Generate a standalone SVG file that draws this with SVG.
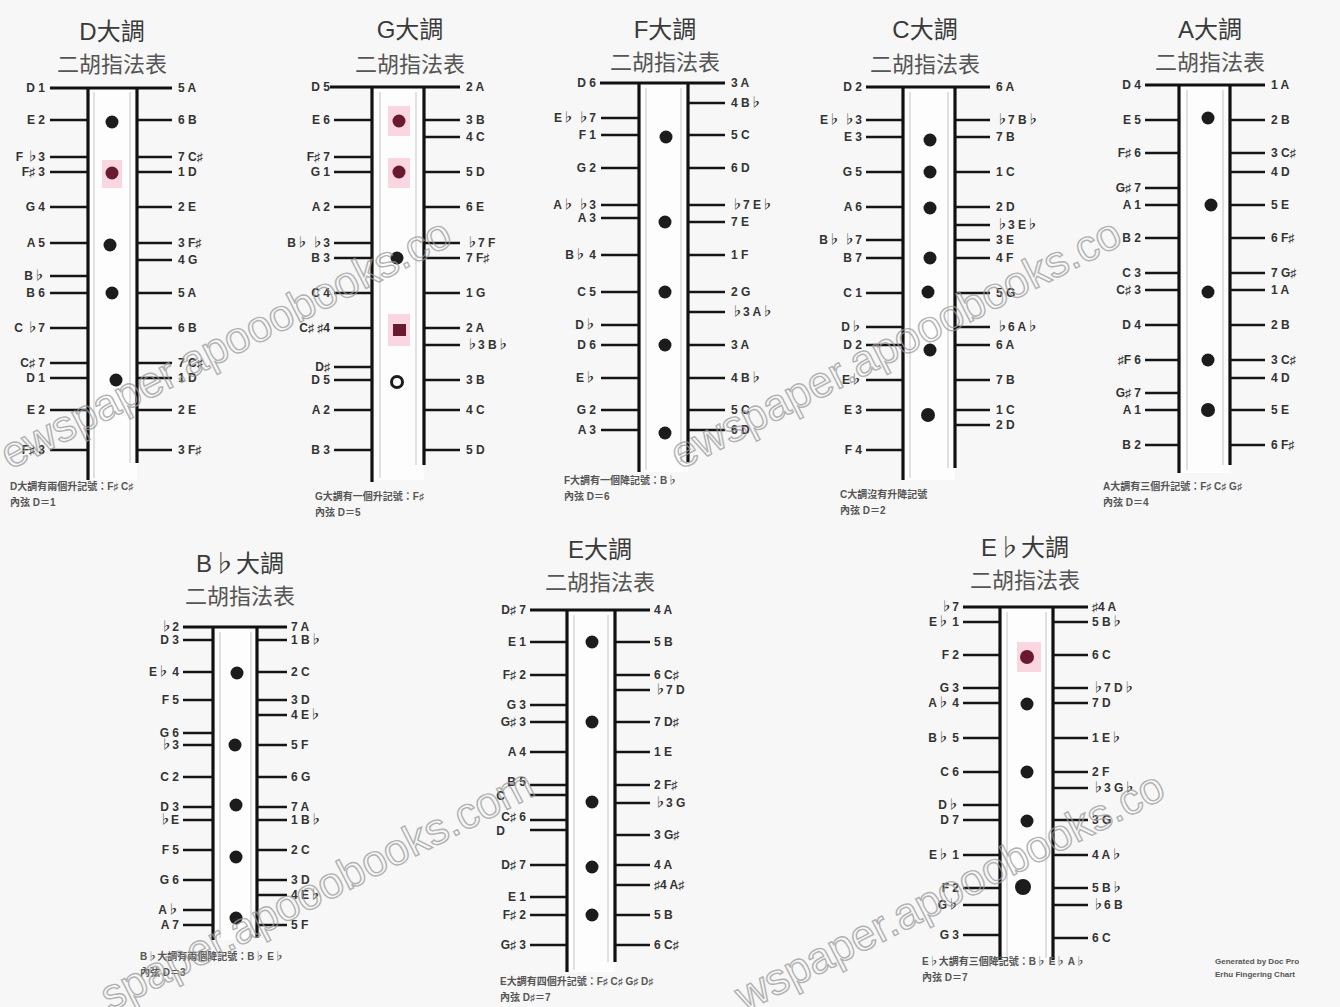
<svg xmlns="http://www.w3.org/2000/svg" width="1340" height="1007" viewBox="0 0 1340 1007">
<style>
.bg{fill:#f7f7f7}
.lane{fill:#fdfdfd}
.f{stroke:#111;stroke-width:3.2;fill:none}
.in{stroke:#c4c4c4;stroke-width:1;fill:none}
.t{stroke:#151515;stroke-width:2.6;fill:none}
.ttl{font-family:"Liberation Sans","Noto Sans CJK TC",sans-serif;font-size:24px;fill:#3a3a3a;text-anchor:middle}
.sub{font-family:"Noto Sans CJK TC",sans-serif;font-size:22px;fill:#555;text-anchor:middle}
.l{font-family:"Liberation Sans","Noto Sans CJK TC",sans-serif;font-size:12px;font-weight:bold;fill:#333;text-anchor:end}
.r{font-family:"Liberation Sans","Noto Sans CJK TC",sans-serif;font-size:12px;font-weight:bold;fill:#333;text-anchor:start}
.note{font-family:"Liberation Sans","Noto Sans CJK TC",sans-serif;font-size:10px;font-weight:bold;fill:#555}
.dot{fill:#1c1c1c}
.red{fill:#6a1a2e}
.pk{fill:#f9d6e0}
.wm{font-family:"Liberation Sans",sans-serif;font-size:44px;fill:none;stroke:#9a9a9a;stroke-width:1.4;opacity:0.75}
</style>
<rect class="bg" x="0" y="0" width="1340" height="1007"/>

<!-- D major -->
<g id="chart-D" transform="translate(88,0)">
<text class="ttl" x="24" y="40">D大調</text>
<text class="sub" x="24" y="72">二胡指法表</text>
<rect class="lane" x="0" y="88" width="49" height="392"/>
<rect class="pk" x="14" y="160" width="20" height="28"/>
<path class="in" d="M6 92V478M42 92V463"/>
<path class="f" d="M0 88V480M49 88V463M-38 88H84"/>
<path class="t" d="M-38 120H0M-38 157H0M-38 172H0M-38 207H0M-38 243H0M-38 276H0M-38 293H0M-38 328H0M-38 363H0M-38 378H0M-38 410H0M-38 450H0"/>
<path class="t" d="M49 120H84M49 157H84M49 172H84M49 207H84M49 243H84M49 260H84M49 293H84M49 328H84M49 363H84M49 378H84M49 410H84M49 450H84"/>
<circle class="dot" cx="24" cy="122" r="6.5"/><circle class="red" cx="24" cy="173" r="6.5"/><circle class="dot" cx="22" cy="245" r="6.5"/><circle class="dot" cx="24" cy="293" r="6.5"/><circle class="dot" cx="28" cy="380" r="6.5"/>
<g class="l"><text x="-43" y="92">D 1</text><text x="-43" y="124">E 2</text><text x="-43" y="161">F ♭3</text><text x="-43" y="176">F♯ 3</text><text x="-43" y="211">G 4</text><text x="-43" y="247">A 5</text><text x="-43" y="280">B♭</text><text x="-43" y="297">B 6</text><text x="-43" y="332">C ♭7</text><text x="-43" y="367">C♯ 7</text><text x="-43" y="382">D 1</text><text x="-43" y="414">E 2</text><text x="-43" y="454">F♯ 3</text></g>
<g class="r"><text x="90" y="92">5 A</text><text x="90" y="124">6 B</text><text x="90" y="161">7 C♯</text><text x="90" y="176">1 D</text><text x="90" y="211">2 E</text><text x="90" y="247">3 F♯</text><text x="90" y="264">4 G</text><text x="90" y="297">5 A</text><text x="90" y="332">6 B</text><text x="90" y="367">7 C♯</text><text x="90" y="382">1 D</text><text x="90" y="414">2 E</text><text x="90" y="454">3 F♯</text></g>
<text class="note" x="-78" y="490">D大調有兩個升記號：F♯ C♯</text>
<text class="note" x="-78" y="506">內弦 D＝1</text>
</g>

<!-- G major -->
<g id="chart-G" transform="translate(372,0)">
<text class="ttl" x="38" y="38">G大調</text>
<text class="sub" x="38" y="72">二胡指法表</text>
<rect class="lane" x="0" y="87" width="52" height="393"/>
<rect class="pk" x="16" y="106" width="22" height="30"/><rect class="pk" x="16" y="158" width="22" height="30"/><rect class="pk" x="16" y="314" width="22" height="32"/>
<path class="in" d="M8 92V478M44 92V465"/>
<path class="f" d="M0 87V482M52 87V465M-42 87H88"/>
<path class="t" d="M-38 120H0M-38 157H0M-38 172H0M-38 207H0M-38 243H0M-38 258H0M-38 293H0M-38 328H0M-38 367H0M-38 380H0M-38 410H0M-38 450H0"/>
<path class="t" d="M52 120H88M52 137H88M52 172H88M52 207H88M52 243H88M52 258H88M52 293H88M52 328H88M52 345H88M52 380H88M52 410H88M52 450H88"/>
<circle class="red" cx="27" cy="121" r="6.5"/><circle class="red" cx="27" cy="172" r="6.5"/><circle class="dot" cx="25" cy="258" r="6.5"/><rect class="red" x="21" y="324" width="13" height="12"/><circle cx="25" cy="382" r="5.5" fill="#fff" stroke="#1c1c1c" stroke-width="3"/>
<g class="l"><text x="-42" y="91">D 5</text><text x="-42" y="124">E 6</text><text x="-42" y="161">F♯ 7</text><text x="-42" y="176">G 1</text><text x="-42" y="211">A 2</text><text x="-42" y="247">B♭ ♭3</text><text x="-42" y="262">B 3</text><text x="-42" y="297">C 4</text><text x="-42" y="332">C♯ ♯4</text><text x="-42" y="371">D♯</text><text x="-42" y="384">D 5</text><text x="-42" y="414">A 2</text><text x="-42" y="454">B 3</text></g>
<g class="r"><text x="94" y="91">2 A</text><text x="94" y="124">3 B</text><text x="94" y="141">4 C</text><text x="94" y="176">5 D</text><text x="94" y="211">6 E</text><text x="94" y="247">♭7 F</text><text x="94" y="262">7 F♯</text><text x="94" y="297">1 G</text><text x="94" y="332">2 A</text><text x="94" y="349">♭3 B♭</text><text x="94" y="384">3 B</text><text x="94" y="414">4 C</text><text x="94" y="454">5 D</text></g>
<text class="note" x="-57" y="500">G大調有一個升記號：F♯</text>
<text class="note" x="-57" y="516">內弦 D＝5</text>
</g>

<!-- F major -->
<g id="chart-F" transform="translate(639,0)">
<text class="ttl" x="26" y="38">F大調</text>
<text class="sub" x="26" y="70">二胡指法表</text>
<rect class="lane" x="0" y="83" width="49" height="389"/>
<path class="in" d="M7 88V470M42 88V462"/>
<path class="f" d="M0 83V472M49 83V462M-39 83H86"/>
<path class="t" d="M-38 118H0M-38 135H0M-38 168H0M-38 205H0M-38 218H0M-38 255H0M-38 292H0M-38 325H0M-38 345H0M-38 378H0M-38 410H0M-38 430H0"/>
<path class="t" d="M49 103H86M49 135H86M49 168H86M49 205H86M49 222H86M49 255H86M49 292H86M49 312H86M49 345H86M49 378H86M49 410H86M49 430H86"/>
<circle class="dot" cx="27" cy="137" r="6.5"/><circle class="dot" cx="26" cy="222" r="6.5"/><circle class="dot" cx="26" cy="292" r="6.5"/><circle class="dot" cx="26" cy="345" r="6.5"/><circle class="dot" cx="26" cy="433" r="6.5"/>
<g class="l"><text x="-43" y="87">D 6</text><text x="-43" y="122">E♭ ♭7</text><text x="-43" y="139">F 1</text><text x="-43" y="172">G 2</text><text x="-43" y="209">A♭ ♭3</text><text x="-43" y="222">A 3</text><text x="-43" y="259">B♭ 4</text><text x="-43" y="296">C 5</text><text x="-43" y="329">D♭</text><text x="-43" y="349">D 6</text><text x="-43" y="382">E♭</text><text x="-43" y="414">G 2</text><text x="-43" y="434">A 3</text></g>
<g class="r"><text x="92" y="87">3 A</text><text x="92" y="107">4 B♭</text><text x="92" y="139">5 C</text><text x="92" y="172">6 D</text><text x="92" y="209">♭7 E♭</text><text x="92" y="226">7 E</text><text x="92" y="259">1 F</text><text x="92" y="296">2 G</text><text x="92" y="316">♭3 A♭</text><text x="92" y="349">3 A</text><text x="92" y="382">4 B♭</text><text x="92" y="414">5 C</text><text x="92" y="434">6 D</text></g>
<text class="note" x="-75" y="484">F大調有一個降記號：B♭</text>
<text class="note" x="-75" y="500">內弦 D＝6</text>
</g>

<!-- C major -->
<g id="chart-C" transform="translate(903,0)">
<text class="ttl" x="22" y="38">C大調</text>
<text class="sub" x="22" y="72">二胡指法表</text>
<rect class="lane" x="0" y="87" width="52" height="393"/>
<path class="in" d="M7 92V478M45 92V468"/>
<path class="f" d="M0 87V480M52 87V468M-37 87H87"/>
<path class="t" d="M-37 120H0M-37 137H0M-37 172H0M-37 207H0M-37 240H0M-37 258H0M-37 293H0M-37 327H0M-37 345H0M-37 380H0M-37 410H0M-37 450H0"/>
<path class="t" d="M52 120H87M52 137H87M52 172H87M52 207H87M52 225H87M52 240H87M52 258H87M52 293H87M52 327H87M52 345H87M52 380H87M52 410H87M52 425H87"/>
<circle class="dot" cx="27" cy="140" r="6.5"/><circle class="dot" cx="27" cy="172" r="6.5"/><circle class="dot" cx="27" cy="208" r="6.5"/><circle class="dot" cx="27" cy="258" r="6.5"/><circle class="dot" cx="25" cy="292" r="6.5"/><circle class="dot" cx="27" cy="350" r="6.5"/><circle class="dot" cx="25" cy="415" r="7"/>
<g class="l"><text x="-41" y="91">D 2</text><text x="-41" y="124">E♭ ♭3</text><text x="-41" y="141">E 3</text><text x="-41" y="176">G 5</text><text x="-41" y="211">A 6</text><text x="-41" y="244">B♭ ♭7</text><text x="-41" y="262">B 7</text><text x="-41" y="297">C 1</text><text x="-41" y="331">D♭</text><text x="-41" y="349">D 2</text><text x="-41" y="384">E♭</text><text x="-41" y="414">E 3</text><text x="-41" y="454">F 4</text></g>
<g class="r"><text x="93" y="91">6 A</text><text x="93" y="124">♭7 B♭</text><text x="93" y="141">7 B</text><text x="93" y="176">1 C</text><text x="93" y="211">2 D</text><text x="93" y="229">♭3 E♭</text><text x="93" y="244">3 E</text><text x="93" y="262">4 F</text><text x="93" y="297">5 G</text><text x="93" y="331">♭6 A♭</text><text x="93" y="349">6 A</text><text x="93" y="384">7 B</text><text x="93" y="414">1 C</text><text x="93" y="429">2 D</text></g>
<text class="note" x="-63" y="498">C大調沒有升降記號</text>
<text class="note" x="-63" y="514">內弦 D＝2</text>
</g>

<!-- A major -->
<g id="chart-A" transform="translate(1179,0)">
<text class="ttl" x="31" y="38">A大調</text>
<text class="sub" x="31" y="70">二胡指法表</text>
<rect class="lane" x="0" y="85" width="51" height="388"/>
<path class="in" d="M8 90V470M44 90V465"/>
<path class="f" d="M0 85V473M51 85V465M-34 85H86"/>
<path class="t" d="M-34 120H0M-34 153H0M-34 188H0M-34 205H0M-34 238H0M-34 273H0M-34 290H0M-34 325H0M-34 360H0M-34 393H0M-34 410H0M-34 445H0"/>
<path class="t" d="M51 120H86M51 153H86M51 172H86M51 205H86M51 238H86M51 273H86M51 290H86M51 325H86M51 360H86M51 378H86M51 410H86M51 445H86"/>
<circle class="dot" cx="29" cy="118" r="6.5"/><circle class="dot" cx="32" cy="205" r="6.5"/><circle class="dot" cx="29" cy="292" r="6.5"/><circle class="dot" cx="29" cy="360" r="6.5"/><circle class="dot" cx="29" cy="410" r="7"/>
<g class="l"><text x="-38" y="89">D 4</text><text x="-38" y="124">E 5</text><text x="-38" y="157">F♯ 6</text><text x="-38" y="192">G♯ 7</text><text x="-38" y="209">A 1</text><text x="-38" y="242">B 2</text><text x="-38" y="277">C 3</text><text x="-38" y="294">C♯ 3</text><text x="-38" y="329">D 4</text><text x="-38" y="364">♯F 6</text><text x="-38" y="397">G♯ 7</text><text x="-38" y="414">A 1</text><text x="-38" y="449">B 2</text></g>
<g class="r"><text x="92" y="89">1 A</text><text x="92" y="124">2 B</text><text x="92" y="157">3 C♯</text><text x="92" y="176">4 D</text><text x="92" y="209">5 E</text><text x="92" y="242">6 F♯</text><text x="92" y="277">7 G♯</text><text x="92" y="294">1 A</text><text x="92" y="329">2 B</text><text x="92" y="364">3 C♯</text><text x="92" y="382">4 D</text><text x="92" y="414">5 E</text><text x="92" y="449">6 F♯</text></g>
<text class="note" x="-76" y="490">A大調有三個升記號：F♯ C♯ G♯</text>
<text class="note" x="-76" y="506">內弦 D＝4</text>
</g>

<!-- Bb major -->
<g id="chart-Bb" transform="translate(213,0)">
<text class="ttl" x="27" y="572">B♭大調</text>
<text class="sub" x="27" y="604">二胡指法表</text>
<rect class="lane" x="0" y="627" width="44" height="313"/>
<path class="in" d="M7 632V938M38 632V938"/>
<path class="f" d="M0 627V940M44 627V938M-30 627H74"/>
<path class="t" d="M-30 640H0M-30 672H0M-30 700H0M-30 733H0M-30 745H0M-30 777H0M-30 807H0M-30 820H0M-30 850H0M-30 880H0M-30 910H0M-30 925H0"/>
<path class="t" d="M44 640H74M44 672H74M44 700H74M44 715H74M44 745H74M44 777H74M44 807H74M44 820H74M44 850H74M44 880H74M44 895H74M44 925H74"/>
<circle class="dot" cx="24" cy="673" r="6.5"/><circle class="dot" cx="22" cy="745" r="6.5"/><circle class="dot" cx="23" cy="805" r="6.5"/><circle class="dot" cx="23" cy="857" r="6.5"/><circle class="dot" cx="23" cy="918" r="6.5"/>
<g class="l"><text x="-34" y="631">♭2</text><text x="-34" y="644">D 3</text><text x="-34" y="676">E♭ 4</text><text x="-34" y="704">F 5</text><text x="-34" y="737">G 6</text><text x="-34" y="749">♭3</text><text x="-34" y="781">C 2</text><text x="-34" y="811">D 3</text><text x="-34" y="824">♭E</text><text x="-34" y="854">F 5</text><text x="-34" y="884">G 6</text><text x="-34" y="914">A♭</text><text x="-34" y="929">A 7</text></g>
<g class="r"><text x="78" y="631">7 A</text><text x="78" y="644">1 B♭</text><text x="78" y="676">2 C</text><text x="78" y="704">3 D</text><text x="78" y="719">4 E♭</text><text x="78" y="749">5 F</text><text x="78" y="781">6 G</text><text x="78" y="811">7 A</text><text x="78" y="824">1 B♭</text><text x="78" y="854">2 C</text><text x="78" y="884">3 D</text><text x="78" y="899">4 E♭</text><text x="78" y="929">5 F</text></g>
<text class="note" x="-73" y="960">B♭大調有兩個降記號：B♭ E♭</text>
<text class="note" x="-73" y="976">內弦 D＝3</text>
</g>

<!-- E major -->
<g id="chart-E" transform="translate(567,0)">
<text class="ttl" x="33" y="558">E大調</text>
<text class="sub" x="33" y="590">二胡指法表</text>
<rect class="lane" x="0" y="610" width="48" height="362"/>
<path class="in" d="M7 615V970M41 615V962"/>
<path class="f" d="M0 610V972M48 610V962M-37 610H83"/>
<path class="t" d="M-37 642H0M-37 675H0M-37 705H0M-37 722H0M-37 752H0M-37 785H0M-37 795H0M-37 820H0M-37 830H0M-37 865H0M-37 897H0M-37 915H0M-37 945H0"/>
<path class="t" d="M48 642H83M48 675H83M48 690H83M48 722H83M48 752H83M48 785H83M48 803H83M48 835H83M48 865H83M48 885H83M48 915H83M48 945H83"/>
<circle class="dot" cx="25" cy="642" r="6.5"/><circle class="dot" cx="25" cy="722" r="6.5"/><circle class="dot" cx="25" cy="802" r="6.5"/><circle class="dot" cx="25" cy="867" r="6.5"/><circle class="dot" cx="25" cy="915" r="6.5"/>
<g class="l"><text x="-41" y="614">D♯ 7</text><text x="-41" y="646">E 1</text><text x="-41" y="679">F♯ 2</text><text x="-41" y="709">G 3</text><text x="-41" y="726">G♯ 3</text><text x="-41" y="756">A 4</text><text x="-41" y="786">B 5</text><text x="-62" y="800">C</text><text x="-41" y="821">C♯ 6</text><text x="-62" y="835">D</text><text x="-41" y="869">D♯ 7</text><text x="-41" y="901">E 1</text><text x="-41" y="919">F♯ 2</text><text x="-41" y="949">G♯ 3</text></g>
<g class="r"><text x="87" y="614">4 A</text><text x="87" y="646">5 B</text><text x="87" y="679">6 C♯</text><text x="87" y="694">♭7 D</text><text x="87" y="726">7 D♯</text><text x="87" y="756">1 E</text><text x="87" y="789">2 F♯</text><text x="87" y="807">♭3 G</text><text x="87" y="839">3 G♯</text><text x="87" y="869">4 A</text><text x="87" y="889">♯4 A♯</text><text x="87" y="919">5 B</text><text x="87" y="949">6 C♯</text></g>
<text class="note" x="-67" y="985">E大調有四個升記號：F♯ C♯ G♯ D♯</text>
<text class="note" x="-67" y="1001">內弦 D♯＝7</text>
</g>

<!-- Eb major -->
<g id="chart-Eb" transform="translate(1000,0)">
<text class="ttl" x="25" y="556">E♭大調</text>
<text class="sub" x="25" y="588">二胡指法表</text>
<rect class="lane" x="0" y="607" width="53" height="353"/>
<rect class="pk" x="17" y="642" width="24" height="30"/>
<path class="in" d="M7 612V958M46 612V958"/>
<path class="f" d="M0 607V960M53 607V960M-37 607H88"/>
<path class="t" d="M-37 622H0M-37 655H0M-37 688H0M-37 703H0M-37 738H0M-37 772H0M-37 805H0M-37 820H0M-37 855H0M-37 888H0M-37 905H0M-37 935H0"/>
<path class="t" d="M53 622H88M53 655H88M53 688H88M53 703H88M53 738H88M53 772H88M53 788H88M53 820H88M53 855H88M53 888H88M53 905H88M53 938H88"/>
<circle class="red" cx="27" cy="657" r="7"/><circle class="dot" cx="27" cy="704" r="6.5"/><circle class="dot" cx="27" cy="772" r="6.5"/><circle class="dot" cx="27" cy="821" r="6.5"/><circle class="dot" cx="23" cy="887" r="8"/>
<g class="l"><text x="-41" y="611">♭7</text><text x="-41" y="626">E♭ 1</text><text x="-41" y="659">F 2</text><text x="-41" y="692">G 3</text><text x="-41" y="707">A♭ 4</text><text x="-41" y="742">B♭ 5</text><text x="-41" y="776">C 6</text><text x="-41" y="809">D♭</text><text x="-41" y="824">D 7</text><text x="-41" y="859">E♭ 1</text><text x="-41" y="892">F 2</text><text x="-41" y="909">G♭</text><text x="-41" y="939">G 3</text></g>
<g class="r"><text x="92" y="611">♯4 A</text><text x="92" y="626">5 B♭</text><text x="92" y="659">6 C</text><text x="92" y="692">♭7 D♭</text><text x="92" y="707">7 D</text><text x="92" y="742">1 E♭</text><text x="92" y="776">2 F</text><text x="92" y="792">♭3 G♭</text><text x="92" y="824">3 G</text><text x="92" y="859">4 A♭</text><text x="92" y="892">5 B♭</text><text x="92" y="909">♭6 B</text><text x="92" y="942">6 C</text></g>
<text class="note" x="-78" y="965">E♭大調有三個降記號：B♭ E♭ A♭</text>
<text class="note" x="-78" y="981">內弦 D＝7</text>
</g>

<g id="credit">
<text class="note" x="1215" y="964" style="font-size:8px">Generated by Doc Pro</text>
<text class="note" x="1215" y="977" style="font-size:8px">Erhu Fingering Chart</text>
</g>

<g id="watermark">
<text class="wm" transform="translate(10,470) rotate(-27)">ewspaper.apooobooks.co</text>
<text class="wm" transform="translate(680,470) rotate(-27)">ewspaper.apooobooks.co</text>
<text class="wm" transform="translate(110,1012) rotate(-27)">spaper.apooobooks.com</text>
<text class="wm" transform="translate(745,1012) rotate(-27)">wspaper.apooobooks.co</text>
</g>
</svg>
